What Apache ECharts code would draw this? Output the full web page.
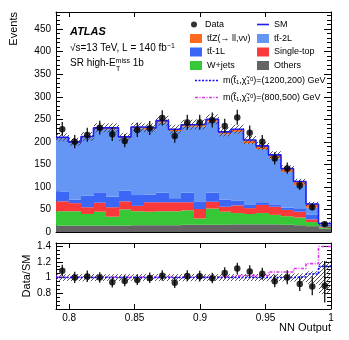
<!DOCTYPE html>
<html>
<head>
<meta charset="utf-8">
<script src="https://cdn.jsdelivr.net/npm/echarts@6/dist/echarts.min.js"></script>
<style>
html, body { margin: 0; padding: 0; background: #fff; }
#chart { width: 349px; height: 340px; }
</style>
</head>
<body>
<div id="chart"></div>
<script>
// 22 equal bins between 0.79 and 1.0
const xMin = 0.79;
const xMax = 1.0;
const nBins = 22;

// background composition, events per bin (bottom to top of the stack)
const others    = [14, 14, 14, 14, 14, 14, 15, 15, 15, 15, 16, 16, 16, 16, 17, 17, 17, 17, 16, 15, 13, 7];
const wjets     = [32, 32, 26, 31, 20, 36, 31, 30, 31, 31, 32, 14, 36, 29, 25, 23, 25, 21, 19, 17, 9, 3];
const singleTop = [22, 18, 15, 20, 21, 18, 12, 21, 20, 20, 18, 21, 15, 11, 17, 13, 18, 18, 14, 13, 6, 2];
const tt1L      = [21, 8, 26, 23, 23, 24, 24, 17, 21, 9, 21, 17, 20, 16, 11, 7, 6, 4, 5, 6, 10, 4];
const tt2L      = [119, 126, 129, 141, 150, 116, 148, 145, 156, 149, 147, 166, 158, 145, 152, 137, 118, 103, 79, 53, 16, 1];
const ttZ       = [2, 2, 2, 2, 3, 3, 3, 3, 4, 4, 4, 5, 5, 5, 6, 7, 7, 8, 8, 8, 8, 2];

// total SM uncertainty (events)
const smUnc = [9, 9, 10, 10, 10, 9, 10, 10, 11, 10, 11, 11, 11, 10, 10, 9, 9, 8, 7, 6, 5, 4];

// observed data with down / up errors
const dataObs = [228, 200, 215, 231, 217, 202, 226, 230, 253, 213, 243, 243, 248, 235, 254, 220, 200, 163, 141, 103, 55, 17];
const errDown = [15, 14, 15, 15, 15, 14, 15, 15, 16, 15, 16, 16, 16, 15, 16, 15, 14, 13, 12, 10, 7, 4];
const errUp   = [16, 15, 16, 16, 16, 15, 16, 16, 17, 16, 17, 17, 17, 16, 17, 16, 15, 14, 13, 11, 8, 6];

// signal yields on top of SM (events)
const sig1200 = [0.2, 0.2, 0.2, 0.2, 0.2, 0.2, 0.2, 0.2, 0.2, 0.2, 0.2, 0.2, 0.2, 0.2, 0.2, 0.2, 0.2, 0.2, 0.2, 1, 2.8, 2.7];
const sig800  = [1, 1, 1, 1, 1, 1, 1, 1, 1, 1, 1, 2, 2, 2, 6, 5, 5, 12, 10, 13, 11, 7.5];

const xTicks = [0.8, 0.85, 0.9, 0.95, 1];

const FONT = 'Liberation Sans, Arial, Helvetica, sans-serif';
const ttZName = 'tt\u0304Z(\u2192 ll,\u03bd\u03bd)';
const sigName1 = 'm(t\u0303\u2081,\u03c7\u0303\u2070\u2081)=(1200,200) GeV';
const sigName2 = 'm(t\u0303\u2081,\u03c7\u0303\u2070\u2081)=(800,500) GeV';
// legend labels for the signals, with small sub/superscripts
const sigLabel = {};
sigLabel[sigName1] = 'm(t\u0303{s|1},\u03c7\u0303{s|1}{p|0})=(1200,200) GeV';
sigLabel[sigName2] = 'm(t\u0303{s|1},\u03c7\u0303{s|1}{p|0})=(800,500) GeV';

// legend line icons (solid, dotted, dash-dot)
const iconSolid = 'path://M0,0H12V1.6H0Z';
const iconDotted = 'path://M0,0H2V1.6H0Z M3.5,0H5.5V1.6H3.5Z M7,0H9V1.6H7Z M10.5,0H12.5V1.6H10.5Z M14,0H16V1.6H14Z M17.5,0H19.5V1.6H17.5Z M21,0H23V1.6H21Z';
const iconDashDot = 'path://M0,0H3V1.6H0Z M4.5,0H5.5V1.6H4.5Z M7,0H10V1.6H7Z M11.5,0H12.5V1.6H11.5Z M14,0H17V1.6H14Z M18.5,0H19.5V1.6H18.5Z M21,0H23V1.6H21Z';

const layers = [
  { name: 'Others', values: others, color: '#646464' },
  { name: 'W+jets', values: wjets, color: '#37c837' },
  { name: 'Single-top', values: singleTop, color: '#fa3a3a' },
  { name: 'tt\u0304-1L', values: tt1L, color: '#3b66f6' },
  { name: 'tt\u0304-2L', values: tt2L, color: '#6595f5' },
  { name: ttZName, values: ttZ, color: '#fd6a1d' }
];

const binW = (xMax - xMin) / nBins;
const lowEdge = i => xMin + i * binW;
const centre = i => xMin + (i + 0.5) * binW;

// stack the backgrounds
const base = new Array(nBins).fill(0);
const layerRows = layers.map(l => l.values.map((v, i) => {
  const row = [lowEdge(i), lowEdge(i + 1), base[i], base[i] + v];
  base[i] += v;
  return row;
}));
const smTotal = base.slice();

// hatch pattern for the uncertainty band
const hatch = document.createElement('canvas');
hatch.width = 4;
hatch.height = 4;
const hctx = hatch.getContext('2d');
hctx.strokeStyle = '#444';
hctx.lineWidth = 0.9;
hctx.beginPath();
hctx.moveTo(0, 4); hctx.lineTo(4, 0);
hctx.moveTo(-1, 1); hctx.lineTo(1, -1);
hctx.moveTo(3, 5); hctx.lineTo(5, 3);
hctx.stroke();
const hatchFill = { image: hatch, repeat: 'repeat' };

function rectItem(fill) {
  return function (params, api) {
    const p0 = api.coord([api.value(0), api.value(3)]);
    const p1 = api.coord([api.value(1), api.value(2)]);
    const x0 = Math.round(p0[0]);
    const x1 = Math.round(p1[0]);
    return {
      type: 'rect',
      shape: { x: x0, y: p0[1], width: x1 - x0, height: p1[1] - p0[1] },
      style: { fill: fill || api.visual('color') }
    };
  };
}

function errItem(params, api) {
  const hi = api.coord([api.value(0), api.value(2)]);
  const lo = api.coord([api.value(0), api.value(1)]);
  return {
    type: 'line',
    shape: { x1: hi[0], y1: hi[1], x2: lo[0], y2: lo[1] },
    style: { stroke: '#000', lineWidth: 1.2 }
  };
}

// points at the low edges plus the last high edge, drawn as steps
function stepPoints(vals) {
  const pts = vals.map((v, i) => [lowEdge(i), v]);
  pts.push([xMax, vals[vals.length - 1]]);
  return pts;
}

const bandMain = smTotal.map((s, i) => [lowEdge(i), lowEdge(i + 1), s - smUnc[i], s + smUnc[i]]);
const bandRatio = smTotal.map((s, i) => [lowEdge(i), lowEdge(i + 1), 1 - smUnc[i] / s, 1 + smUnc[i] / s]);
const errMain = dataObs.map((d, i) => [centre(i), d - errDown[i], d + errUp[i]]);
const errRatio = dataObs.map((d, i) => [centre(i), (d - errDown[i]) / smTotal[i], (d + errUp[i]) / smTotal[i]]);
const ratioSig1 = sig1200.map((s, i) => (smTotal[i] + s) / smTotal[i]);
const ratioSig2 = sig800.map((s, i) => (smTotal[i] + s) / smTotal[i]);

const chart = echarts.init(document.getElementById('chart'));

const axisLine = { onZero: false, lineStyle: { color: '#000', width: 1 } };
const labelStyle = { color: '#000', fontSize: 10, fontFamily: FONT };
const textStyle = {
  color: '#000', fontSize: 9, fontFamily: FONT,
  rich: {
    s: { fontSize: 6, fontFamily: FONT, verticalAlign: 'bottom', color: '#000' },
    p: { fontSize: 6, fontFamily: FONT, verticalAlign: 'top', color: '#000' }
  }
};

function xAxis(grid, pos, labels) {
  return {
    type: 'value', gridIndex: grid, position: pos, min: xMin, max: xMax,
    axisLine: axisLine,
    axisTick: { inside: true, length: 5, customValues: xTicks, lineStyle: { color: '#000' } },
    axisLabel: labels
      ? Object.assign({ customValues: xTicks, margin: 4, formatter: v => String(+v.toFixed(2)) }, labelStyle)
      : { show: false },
    splitLine: { show: false }
  };
}

function yAxis(grid, pos, min, max, step, minor, labels, fmt) {
  return {
    type: 'value', gridIndex: grid, position: pos, min: min, max: max, interval: step,
    axisLine: axisLine,
    axisTick: { inside: true, length: 7, lineStyle: { color: '#000' } },
    minorTick: { show: true, splitNumber: minor, length: 4, lineStyle: { color: '#000' } },
    axisLabel: labels
      ? Object.assign({ margin: 5, showMinLabel: grid === 0, showMaxLabel: false, formatter: fmt }, labelStyle)
      : { show: false },
    splitLine: { show: false }
  };
}

const series = [];
layers.forEach((l, k) => {
  series.push({
    type: 'custom', name: l.name, xAxisIndex: 0, yAxisIndex: 0,
    renderItem: rectItem(null), itemStyle: { color: l.color },
    encode: { x: [0, 1], y: [2, 3] }, data: layerRows[k], clip: true, silent: true, z: 2
  });
});
series.push(
  {
    type: 'custom', xAxisIndex: 0, yAxisIndex: 0, renderItem: rectItem(hatchFill),
    encode: { x: [0, 1], y: [2, 3] }, data: bandMain, clip: true, silent: true, z: 3
  },
  {
    type: 'line', name: 'SM', xAxisIndex: 0, yAxisIndex: 0, step: 'end', symbol: 'none',
    data: stepPoints(smTotal), lineStyle: { color: '#1d1df0', width: 1.6 },
    itemStyle: { color: '#1d1df0' }, silent: true, z: 4
  },
  {
    type: 'custom', xAxisIndex: 0, yAxisIndex: 0, renderItem: errItem,
    encode: { x: 0, y: [1, 2] }, data: errMain, clip: true, silent: true, z: 5
  },
  {
    type: 'scatter', name: 'Data', xAxisIndex: 0, yAxisIndex: 0, symbolSize: 6.5,
    itemStyle: { color: '#000' }, data: dataObs.map((d, i) => [centre(i), d]), silent: true, z: 6
  },
  // ratio panel
  {
    type: 'custom', xAxisIndex: 2, yAxisIndex: 2, renderItem: rectItem(hatchFill),
    encode: { x: [0, 1], y: [2, 3] }, data: bandRatio, clip: true, silent: true, z: 3
  },
  {
    type: 'line', name: sigName2, xAxisIndex: 2, yAxisIndex: 2, step: 'end', symbol: 'none',
    data: stepPoints(ratioSig2), lineStyle: { color: '#e033f0', width: 1.6, type: [3, 1.5, 1, 1.5] },
    itemStyle: { color: '#e033f0' }, silent: true, z: 4
  },
  {
    type: 'line', name: sigName1, xAxisIndex: 2, yAxisIndex: 2, step: 'end', symbol: 'none',
    data: stepPoints(ratioSig1), lineStyle: { color: '#1010ff', width: 1.6, type: [2, 1.5] },
    itemStyle: { color: '#1010ff' }, silent: true, z: 4
  },
  {
    type: 'custom', xAxisIndex: 2, yAxisIndex: 2, renderItem: errItem,
    encode: { x: 0, y: [1, 2] }, data: errRatio, clip: true, silent: true, z: 5
  },
  {
    type: 'scatter', xAxisIndex: 2, yAxisIndex: 2, symbolSize: 6.5, itemStyle: { color: '#000' },
    data: dataObs.map((d, i) => [centre(i), d / smTotal[i]]), clip: true, silent: true, z: 6
  }
);

const legendBase = { orient: 'vertical', padding: 0, selectedMode: false, textStyle: textStyle };

chart.setOption({
  animation: false,
  grid: [
    { left: 56, right: 18, top: 12, height: 220, show: false },
    { left: 56, right: 18, top: 243, height: 66, show: false }
  ],
  xAxis: [
    xAxis(0, 'bottom', false),
    xAxis(0, 'top', false),
    xAxis(1, 'bottom', true),
    xAxis(1, 'top', false)
  ],
  yAxis: [
    yAxis(0, 'left', 0, 488, 50, 5, true, v => String(v)),
    yAxis(0, 'right', 0, 488, 50, 5, false),
    yAxis(1, 'left', 0.6, 1.44, 0.2, 4, true, v => String(Math.round(v * 10) / 10)),
    yAxis(1, 'right', 0.6, 1.44, 0.2, 4, false)
  ],
  legend: [
    Object.assign({ left: 191, top: 20, itemWidth: 12, itemHeight: 6, data: [{ name: 'Data', icon: 'circle' }] }, legendBase),
    Object.assign({ left: 190, top: 34, itemWidth: 12, itemHeight: 9, itemGap: 4.5,
      data: [{ name: ttZName, icon: 'rect' }, { name: 'tt\u0304-1L', icon: 'rect' }, { name: 'W+jets', icon: 'rect' }] }, legendBase),
    Object.assign({ left: 257, top: 20, itemWidth: 12, itemHeight: 9, data: [{ name: 'SM', icon: iconSolid }] }, legendBase),
    Object.assign({ left: 257, top: 34, itemWidth: 12, itemHeight: 9, itemGap: 4.5,
      data: [{ name: 'tt\u0304-2L', icon: 'rect' }, { name: 'Single-top', icon: 'rect' }, { name: 'Others', icon: 'rect' }] }, legendBase),
    Object.assign({ left: 195, top: 76, itemWidth: 23, itemHeight: 9, itemGap: 8,
      formatter: name => sigLabel[name] || name,
      data: [{ name: sigName1, icon: iconDotted }, { name: sigName2, icon: iconDashDot }] }, legendBase)
  ],
  graphic: [
    { type: 'text', x: 70, y: 32, style: { text: 'ATLAS', font: 'italic bold 11px ' + FONT, fill: '#000', verticalAlign: 'middle' } },
    {
      type: 'text', x: 70, y: 48,
      style: {
        text: '{a|\u221as=13 TeV, L = 140 fb}{s|\u22121}', verticalAlign: 'middle', fill: '#000',
        rich: { a: { fontSize: 10, fontFamily: FONT }, s: { fontSize: 7, fontFamily: FONT, verticalAlign: 'top' } }
      }
    },
    {
      type: 'text', x: 70, y: 63,
      style: {
        text: '{a|SR high-E}{s|miss}{a| 1b}', verticalAlign: 'middle', fill: '#000',
        rich: { a: { fontSize: 10, fontFamily: FONT }, s: { fontSize: 7, fontFamily: FONT, verticalAlign: 'top' } }
      }
    },
    { type: 'text', x: 116, y: 66, style: { text: 'T', fontSize: 7, fontFamily: FONT, fill: '#000' } },
    { type: 'text', x: 14, y: 12, rotation: Math.PI / 2, style: { text: 'Events', fontSize: 11, fontFamily: FONT, fill: '#000', align: 'right', verticalAlign: 'middle' } },
    { type: 'text', x: 27, y: 276, rotation: Math.PI / 2, style: { text: 'Data/SM', fontSize: 11, fontFamily: FONT, fill: '#000', align: 'center', verticalAlign: 'middle' } },
    { type: 'text', x: 331, y: 328, style: { text: 'NN Output', fontSize: 11, fontFamily: FONT, fill: '#000', align: 'right', verticalAlign: 'middle' } }
  ],
  series: series
});
</script>
</body>
</html>
